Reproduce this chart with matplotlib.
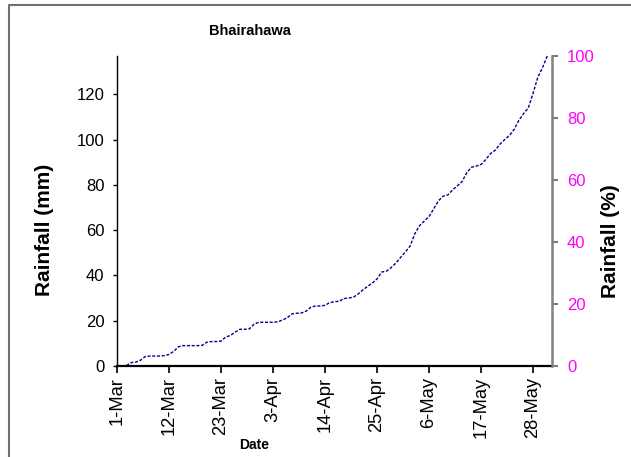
import matplotlib
matplotlib.use("Agg")
import matplotlib.pyplot as plt
from matplotlib.lines import Line2D

# ---- data ----
days = list(range(92))  # day 0 = 1-Mar ... day 91 = 31-May
cum_rain = [0, 0, 0.2, 1.5, 1.7, 2.6, 4.2, 4.4, 4.4, 4.4,
            4.6, 5.1, 6.5, 8.5, 9.0, 9.0, 9.0, 9.0, 9.1, 10.5,
            10.8, 10.8, 11.0, 12.8, 13.5, 15.0, 16.2, 16.2, 16.4, 18.5,
            19.3, 19.3, 19.3, 19.3, 19.5, 20.3, 21.3, 23.0, 23.3, 23.4,
            24.2, 26.0, 26.5, 26.5, 26.8, 28.0, 28.4, 28.6, 29.8, 30.0,
            30.4, 31.8, 33.6, 35.2, 36.6, 38.5, 41.5, 41.9, 43.5, 45.5,
            48.0, 50.4, 53.0, 58.5, 62.0, 64.0, 66.0, 69.5, 73.0, 75.0,
            75.6, 77.8, 79.6, 81.5, 85.5, 87.8, 88.3, 89.0, 91.2, 93.8,
            95.3, 98.0, 100.0, 101.8, 104.5, 108.5, 111.5, 114.0, 120.5, 127.5,
            131.8, 136.9]
xtick_pos = [0, 11, 22, 33, 44, 55, 66, 77, 88]
xtick_labels = ["1-Mar", "12-Mar", "23-Mar", "3-Apr", "14-Apr",
                "25-Apr", "6-May", "17-May", "28-May"]
ytick_left = [0, 20, 40, 60, 80, 100, 120]
ytick_right = [0, 20, 40, 60, 80, 100]

regular = ['Liberation Sans', 'DejaVu Sans']

fig = plt.figure(figsize=(6.31, 4.57), dpi=100)
W, H = 631, 457
ax = fig.add_axes([117 / W, 1 - 366 / H, (552 - 117) / W, (366 - 56) / H])

ax.plot(days, cum_rain, color='#00008B', lw=1.0, linestyle=(0, (2.2, 1.2)))

total = max(cum_rain)
ax.set_xlim(0, 92)
ax.set_ylim(0, total)

ax.set_xticks(xtick_pos)
ax.set_xticklabels(xtick_labels, rotation=90, family=regular, fontsize=13.2)
ax.set_yticks(ytick_left)
ax.set_yticklabels([str(v) for v in ytick_left], family=regular, fontsize=12)

ax.tick_params(axis='x', direction='out', length=4.8, width=1.2, pad=3, colors='black')
ax.tick_params(axis='y', direction='out', length=3, width=1.0, pad=6, colors='black')

for s in ['top', 'right']:
    ax.spines[s].set_visible(False)
ax.spines['left'].set_linewidth(1.0)
ax.spines['bottom'].set_linewidth(1.6)

ax2 = ax.twinx()
ax2.set_ylim(0, 100)
ax2.set_yticks(ytick_right)
ax2.set_yticklabels([str(v) for v in ytick_right], family=regular, fontsize=12, color='#FF00FF')
ax2.tick_params(axis='y', direction='out', length=4, width=1.2, pad=6.8, color='#606060')
for s in ['top', 'left', 'bottom']:
    ax2.spines[s].set_visible(False)
ax2.spines['right'].set_color('#808080')
ax2.spines['right'].set_linewidth(1.8)

fig.text(250 / W, 1 - 31 / H, "Bhairahawa", ha='center', va='center',
         family=regular, fontsize=10.5, fontweight='bold')
fig.text(254 / W, 1 - 445 / H, "Date", ha='center', va='center',
         family=regular, fontsize=10, fontweight='bold')
fig.text(45 / W, 1 - 230 / H, "Rainfall (mm)", rotation=90, ha='center', va='center',
         family=regular, fontsize=15, fontweight='bold')
fig.text(611 / W, 1 - 241 / H, "Rainfall (%)", rotation=90, ha='center', va='center',
         family=regular, fontsize=15, fontweight='bold')

# partial outer frame
x0 = 9 / W
ytop = 1 - 5 / H
fig.add_artist(Line2D([x0, x0, 1.0], [0.0, ytop, ytop], transform=fig.transFigure,
                      color='#707070', lw=1.5))

fig.savefig("out.png", dpi=100)
